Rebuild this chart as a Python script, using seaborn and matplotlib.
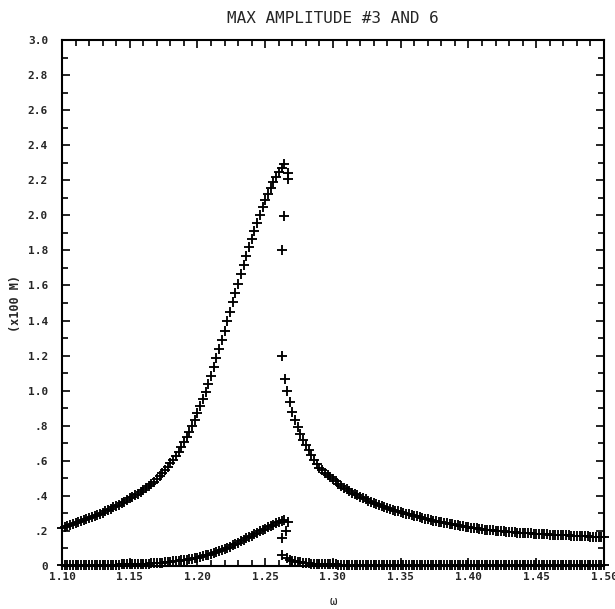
import numpy as np
import pandas as pd
import matplotlib
matplotlib.use("Agg")
import matplotlib.pyplot as plt
import seaborn as sns
from matplotlib.ticker import MultipleLocator

# ---------------- data ----------------
# frequency sweep grid (step 0.002), left of the jump and right of it
omega_left = np.round(np.arange(1.100, 1.2641, 0.002), 3)
omega_right = np.round(np.arange(1.266, 1.5001, 0.002), 3)

amp3_left = [
    0.215, 0.221, 0.226, 0.232, 0.237, 0.243, 0.249, 0.254, 0.260, 0.266,
    0.272, 0.278, 0.285, 0.291, 0.298, 0.305, 0.312, 0.319, 0.327, 0.334,
    0.342, 0.350, 0.359, 0.367, 0.376, 0.385, 0.394, 0.403, 0.413, 0.423,
    0.434, 0.445, 0.456, 0.468, 0.481, 0.495, 0.511, 0.528, 0.545, 0.565,
    0.585, 0.606, 0.628, 0.652, 0.678, 0.707, 0.736, 0.767, 0.800, 0.835,
    0.872, 0.911, 0.952, 0.994, 1.039, 1.086, 1.135, 1.185, 1.236, 1.288,
    1.341, 1.395, 1.449, 1.503, 1.557, 1.611, 1.664, 1.716, 1.767, 1.817,
    1.866, 1.913, 1.959, 2.003, 2.045, 2.085, 2.122, 2.157, 2.189, 2.219,
    2.246, 2.270, 2.291,
]
amp3_right = [
    1.000, 0.935, 0.880, 0.833, 0.792, 0.755, 0.721, 0.690, 0.660, 0.632,
    0.606, 0.582, 0.561, 0.546, 0.532, 0.519, 0.507, 0.495, 0.482, 0.469,
    0.457, 0.447, 0.437, 0.428, 0.419, 0.411, 0.403, 0.395, 0.387, 0.380,
    0.372, 0.365, 0.357, 0.352, 0.346, 0.341, 0.335, 0.330, 0.325, 0.321,
    0.316, 0.312, 0.307, 0.303, 0.299, 0.295, 0.291, 0.287, 0.283, 0.278,
    0.274, 0.270, 0.266, 0.263, 0.259, 0.256, 0.252, 0.249, 0.246, 0.243,
    0.240, 0.237, 0.234, 0.231, 0.229, 0.226, 0.224, 0.221, 0.219, 0.217,
    0.215, 0.212, 0.210, 0.208, 0.207, 0.205, 0.204, 0.202, 0.201, 0.199,
    0.198, 0.196, 0.195, 0.194, 0.193, 0.191, 0.190, 0.189, 0.188, 0.187,
    0.186, 0.185, 0.184, 0.183, 0.182, 0.181, 0.180, 0.179, 0.178, 0.178,
    0.177, 0.176, 0.175, 0.174, 0.174, 0.173, 0.172, 0.171, 0.170, 0.170,
    0.169, 0.169, 0.168, 0.167, 0.167, 0.166, 0.166, 0.165,
]
amp6_left = [
    0.005, 0.005, 0.005, 0.005, 0.005, 0.005, 0.006, 0.006, 0.006, 0.006,
    0.006, 0.006, 0.006, 0.007, 0.007, 0.007, 0.007, 0.007, 0.008, 0.008,
    0.008, 0.008, 0.009, 0.009, 0.009, 0.010, 0.010, 0.011, 0.011, 0.012,
    0.012, 0.013, 0.014, 0.015, 0.016, 0.017, 0.018, 0.019, 0.021, 0.022,
    0.024, 0.026, 0.028, 0.030, 0.032, 0.034, 0.036, 0.039, 0.042, 0.045,
    0.048, 0.052, 0.056, 0.060, 0.064, 0.069, 0.074, 0.079, 0.084, 0.090,
    0.095, 0.102, 0.109, 0.117, 0.125, 0.133, 0.141, 0.149, 0.157, 0.165,
    0.173, 0.181, 0.189, 0.197, 0.205, 0.213, 0.221, 0.228, 0.236, 0.243,
    0.250, 0.257, 0.264,
]
amp6_right = [
    0.044, 0.037, 0.031, 0.027, 0.023, 0.020, 0.018, 0.016, 0.015, 0.014,
    0.013, 0.012, 0.011, 0.011, 0.010, 0.010, 0.009, 0.009, 0.009, 0.008,
    0.008, 0.008, 0.008, 0.008, 0.007, 0.007, 0.007, 0.007, 0.007, 0.007,
    0.007, 0.006, 0.006, 0.006, 0.006, 0.006, 0.006, 0.006, 0.006, 0.006,
    0.006, 0.006, 0.006, 0.006, 0.006, 0.006, 0.006, 0.006, 0.006, 0.006,
    0.006, 0.006, 0.006, 0.006, 0.006, 0.005, 0.005, 0.005, 0.005, 0.005,
    0.005, 0.005, 0.005, 0.005, 0.005, 0.005, 0.005, 0.005, 0.005, 0.005,
    0.005, 0.005, 0.005, 0.005, 0.005, 0.005, 0.005, 0.005, 0.005, 0.005,
    0.005, 0.005, 0.005, 0.005, 0.005, 0.004, 0.004, 0.004, 0.004, 0.004,
    0.004, 0.004, 0.004, 0.004, 0.004, 0.004, 0.004, 0.004, 0.004, 0.004,
    0.004, 0.004, 0.004, 0.004, 0.004, 0.004, 0.004, 0.004, 0.004, 0.004,
    0.004, 0.004, 0.004, 0.004, 0.004, 0.004, 0.004, 0.004,
]
# transient points at the jump
jump3_omega = [1.2665, 1.2665, 1.2638, 1.2620, 1.2624, 1.2646]
jump3_amp = [2.243, 2.210, 1.995, 1.805, 1.195, 1.065]
jump6_omega = [1.2665, 1.2655, 1.2626, 1.2626]
jump6_amp = [0.253, 0.200, 0.158, 0.063]

x_ticks = [1.10, 1.15, 1.20, 1.25, 1.30, 1.35, 1.40, 1.45, 1.50]
x_tick_labels = ["1.10", "1.15", "1.20", "1.25", "1.30", "1.35", "1.40", "1.45", "1.50"]
y_ticks = [0.0, 0.2, 0.4, 0.6, 0.8, 1.0, 1.2, 1.4, 1.6, 1.8, 2.0, 2.2, 2.4, 2.6, 2.8, 3.0]
y_tick_labels = ["0", ".2", ".4", ".6", ".8", "1.0", "1.2", "1.4", "1.6", "1.8",
                 "2.0", "2.2", "2.4", "2.6", "2.8", "3.0"]

title = "MAX AMPLITUDE #3 AND 6"
x_label = "ω"
y_label = "(x100 M)"

# ---------------- build table ----------------
df = pd.concat([
    pd.DataFrame({"omega": omega_left, "amp": amp3_left, "mode": "3"}),
    pd.DataFrame({"omega": omega_right, "amp": amp3_right, "mode": "3"}),
    pd.DataFrame({"omega": jump3_omega, "amp": jump3_amp, "mode": "3"}),
    pd.DataFrame({"omega": omega_left, "amp": amp6_left, "mode": "6"}),
    pd.DataFrame({"omega": omega_right, "amp": amp6_right, "mode": "6"}),
    pd.DataFrame({"omega": jump6_omega, "amp": jump6_amp, "mode": "6"}),
], ignore_index=True)

# ---------------- plot ----------------
sns.set_style("ticks")
plt.rcParams['font.family'] = ['DejaVu Sans Mono', 'DejaVu Sans']

fig = plt.figure(figsize=(6.15, 6.09), dpi=100)
ax = fig.add_axes([62 / 615, 1 - 566 / 609, 542 / 615, 526 / 609])

sns.scatterplot(data=df, x="omega", y="amp", marker="+", s=42, color="black",
                linewidth=1.35, ax=ax, legend=False, clip_on=False, zorder=3)

ax.set_xlim(1.10, 1.50)
ax.set_ylim(0.0, 3.0)
ax.set_xticks(x_ticks)
ax.set_xticklabels(x_tick_labels, fontsize=8, fontweight="bold")
ax.set_yticks(y_ticks)
ax.set_yticklabels(y_tick_labels, fontsize=8, fontweight="bold")
ax.xaxis.set_minor_locator(MultipleLocator(0.01))
ax.yaxis.set_minor_locator(MultipleLocator(0.1))
ax.tick_params(which="both", direction="in", top=True, right=True,
               color="black", width=1.2)
ax.tick_params(which="major", length=6)
ax.tick_params(which="minor", length=4)
ax.tick_params(axis="x", which="major", pad=4)
ax.tick_params(axis="y", which="major", pad=10)

for sp in ax.spines.values():
    sp.set_linewidth(1.5)
    sp.set_color("black")

ax.set_xlabel(x_label, fontsize=9, labelpad=10)
ax.set_ylabel(y_label, fontsize=8.5, fontweight="bold", labelpad=4)
ax.set_title(title, fontsize=11.5, pad=12)

fig.savefig("out.png", dpi=100)
